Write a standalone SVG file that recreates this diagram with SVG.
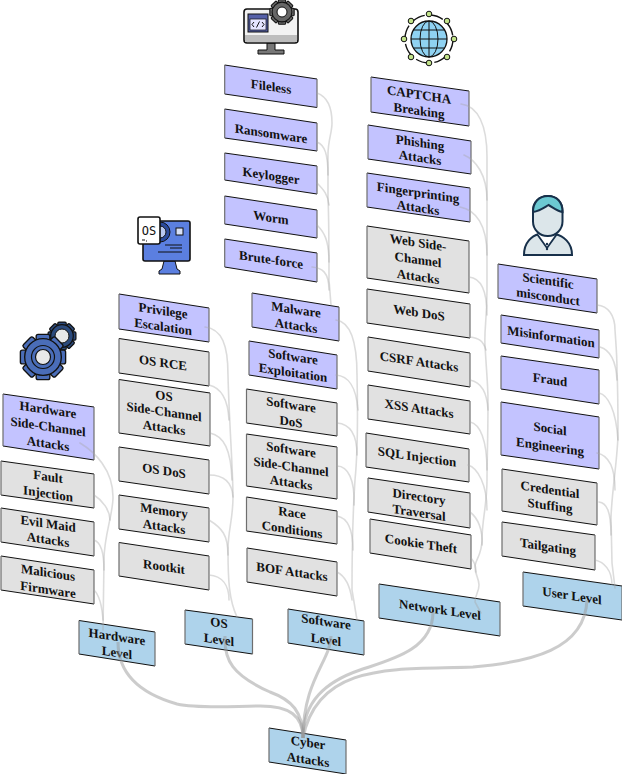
<svg xmlns="http://www.w3.org/2000/svg" width="622" height="774" viewBox="0 0 622 774">
<style>
text{font-family:"Liberation Serif","Times New Roman",serif;font-weight:700;font-size:13px;fill:#111;text-anchor:middle}
.p{fill:#c3c3ff}.g{fill:#e1e1e1}.b{fill:#aed3eb}
.h{stroke:#111;stroke-width:1;fill:none}
.v{stroke:#6e6e6e;stroke-width:1.2;fill:none}
.c{fill:none;stroke:#a8a8a8;stroke-width:1.6;opacity:.4;stroke-linecap:round}
.l{fill:none;stroke:#999;stroke-width:3;opacity:.5}
</style>
<defs>
<g id="gear">
<g id="teeth">
<rect x="-3.5" y="-11.6" width="7" height="23.2" rx="1"/>
<rect x="-3.5" y="-11.6" width="7" height="23.2" rx="1" transform="rotate(45)"/>
<rect x="-3.5" y="-11.6" width="7" height="23.2" rx="1" transform="rotate(90)"/>
<rect x="-3.5" y="-11.6" width="7" height="23.2" rx="1" transform="rotate(135)"/>
</g>
<circle r="9.4"/>
</g>
</defs>
<g id="icon-hardware">
<use href="#gear" transform="translate(62,336) scale(1.2)" fill="#2b4a7c" stroke="#111" stroke-width="1"/>
<circle cx="62" cy="336" r="7" fill="#e8e8e8" stroke="#111"/>
<use href="#gear" transform="translate(43,357) scale(1.95)" fill="#4a6db8" stroke="#111" stroke-width=".7"/>
<circle cx="43" cy="357" r="11.5" fill="#4a6db8" stroke="#111" stroke-width="1.2"/>
<circle cx="43" cy="357" r="7.5" fill="#e8e8e8" stroke="#111" stroke-width="1.2"/>
</g>
<g id="icon-os">
<path d="M164 261h11l2 8 3 2v3h-21v-3l3-2z" fill="#5b7fe0" stroke="#111"/>
<rect x="143" y="221" width="47" height="40" rx="2" fill="#5b7fe0" stroke="#111" stroke-width="1.6"/>
<circle cx="160" cy="232" r="10" fill="#2b4a9c" stroke="#111"/>
<circle cx="160" cy="232" r="6" fill="#b9c8f0" stroke="#111"/>
<rect x="176" y="228" width="7" height="7" fill="#d8e0f8" stroke="#111"/>
<path d="M165 245h17M170 248h12M158 252h24" stroke="#111" stroke-width="1.2" fill="none"/>
<rect x="138" y="217" width="22" height="27" rx="2" fill="#fff" stroke="#111" stroke-width="1.6"/>
<text x="149" y="235" style="font-family:'DejaVu Sans Mono',monospace;font-weight:400;font-size:12px">OS</text>
<path d="M142 240h3M146 241h1" stroke="#111" stroke-width="1.2"/>
</g>
<g id="icon-software">
<path d="M267 43h8v7h9v4h-26v-4h9z" fill="#777" stroke="#111"/>
<rect x="244" y="9" width="54" height="34" rx="3" fill="#f2f2f2" stroke="#111" stroke-width="1.6"/>
<path d="M245 35h52v7h-52z" fill="#bdbdbd"/>
<rect x="248" y="14" width="20" height="18" fill="#5560a8" stroke="#111"/>
<rect x="250" y="19" width="16" height="11" fill="#e4e4ff" stroke="#111" stroke-width=".7"/>
<path d="M254 22l-2 2.500 2 2.500M262 22l2 2.500-2 2.500M259.500 21.500l-3 6" stroke="#111" stroke-width="1" fill="none"/>
<use href="#gear" transform="translate(282,12) scale(1.05)" fill="#666" stroke="#111" stroke-width="1"/>
<circle cx="282" cy="12" r="5" fill="#fff" stroke="#111"/>
</g>
<g id="icon-network">
<circle cx="429" cy="39" r="24" fill="none" stroke="#111" stroke-width="1.4" stroke-dasharray="13 6"/>
<circle cx="429" cy="39" r="18" fill="#8fd2f2" stroke="#111" stroke-width="1.3"/>
<path d="M411 39h36M414 30h30M414 48h30M429 21v36" stroke="#111" stroke-width="1" fill="none"/>
<ellipse cx="429" cy="39" rx="9" ry="18" fill="none" stroke="#111"/>
<g fill="#c2e38a" stroke="#111">
<circle cx="429" cy="14" r="2.800"/><circle cx="447" cy="21" r="2.800"/><circle cx="454" cy="39" r="2.800"/><circle cx="447" cy="57" r="2.800"/>
<circle cx="429" cy="63" r="2.800"/><circle cx="411" cy="57" r="2.800"/><circle cx="404" cy="39" r="2.800"/><circle cx="411" cy="21" r="2.800"/>
</g>
</g>
<g id="icon-user">
<path d="M524 255c0-13 8-19 15-21h16c8 2 17 8 17 21z" fill="#dce6ea" stroke="#17304a" stroke-width="2"/>
<path d="M537 234l10 14 10-14" fill="#fff" stroke="#17304a" stroke-width="1.800"/>
<circle cx="547" cy="244" r="1.200" fill="#17304a"/><circle cx="547" cy="249" r="1.200" fill="#17304a"/>
<rect x="533" y="196" width="29.500" height="40" rx="14.500" fill="#dce6ea" stroke="#17304a" stroke-width="2"/>
<path d="M533 212c0-10 6-16 15-16s14.500 6 14.500 16c-6-1-10-5-14-7-5 3-9 6-15.500 7z" fill="#6cc9d2" stroke="#17304a" stroke-width="2"/>
</g>
<g id="nodes">
<g id="n-hw-sca"><polygon class="p" points="3,394 94,407 94,460 3,446"/><path class="h" d="M3 394L94 407M3 446L94 460"/><path class="v" d="M3 394V446M94 407V460"/><text transform="translate(48,427) skewY(8.500)"><tspan x="0" y="-13">Hardware</tspan><tspan x="0" y="4">Side-Channel</tspan><tspan x="0" y="21">Attacks</tspan></text></g>
<g id="n-fault"><polygon class="g" points="1,461 94,474 94,508 1,495"/><path class="h" d="M1 461L94 474M1 495L94 508"/><path class="v" d="M1 461V495M94 474V508"/><text transform="translate(48,485) skewY(8.500)"><tspan x="0" y="-4">Fault</tspan><tspan x="0" y="13">Injection</tspan></text></g>
<g id="n-evil"><polygon class="g" points="1,508 94,522 94,556 1,542"/><path class="h" d="M1 508L94 522M1 542L94 556"/><path class="v" d="M1 508V542M94 522V556"/><text transform="translate(48,532) skewY(8.500)"><tspan x="0" y="-4">Evil Maid</tspan><tspan x="0" y="12">Attacks</tspan></text></g>
<g id="n-malicious"><polygon class="g" points="1,556 94,570 94,604 1,590"/><path class="h" d="M1 556L94 570M1 590L94 604"/><path class="v" d="M1 556V590M94 570V604"/><text transform="translate(48,581) skewY(8.500)"><tspan x="0" y="-4">Malicious</tspan><tspan x="0" y="13">Firmware</tspan></text></g>
<g id="n-hw"><polygon class="b" points="79,620.500 155,632 155,666 79,654"/><path class="h" d="M79 620.500L155 632M79 654L155 666"/><path class="v" d="M79 620.500V654M155 632V666"/><text transform="translate(117,645) skewY(8.500)"><tspan x="0" y="-4">Hardware</tspan><tspan x="0" y="12">Level</tspan></text></g>
<g id="n-priv"><polygon class="p" points="119,294 209,308 209,342 119,329"/><path class="h" d="M119 294L209 308M119 329L209 342"/><path class="v" d="M119 294V329M209 308V342"/><text transform="translate(163,319) skewY(8.500)"><tspan x="0" y="-4">Privilege</tspan><tspan x="0" y="12">Escalation</tspan></text></g>
<g id="n-osrce"><polygon class="g" points="119,338.500 209,352 209,386 119,373"/><path class="h" d="M119 338.500L209 352M119 373L209 386"/><path class="v" d="M119 338.500V373M209 352V386"/><text transform="translate(163,363) skewY(8.500)" y="4">OS RCE</text></g>
<g id="n-ossca"><polygon class="g" points="119,379.500 210,393 210,446 119,433"/><path class="h" d="M119 379.500L210 393M119 433L210 446"/><path class="v" d="M119 379.500V433M210 393V446"/><text transform="translate(164,412) skewY(8.500)"><tspan x="0" y="-12">OS</tspan><tspan x="0" y="4">Side-Channel</tspan><tspan x="0" y="20">Attacks</tspan></text></g>
<g id="n-osdos"><polygon class="g" points="119,447 209,460 209,494 119,481"/><path class="h" d="M119 447L209 460M119 481L209 494"/><path class="v" d="M119 447V481M209 460V494"/><text transform="translate(164,471) skewY(8.500)" y="4">OS DoS</text></g>
<g id="n-mem"><polygon class="g" points="119,495 209,508 209,542 119,529"/><path class="h" d="M119 495L209 508M119 529L209 542"/><path class="v" d="M119 495V529M209 508V542"/><text transform="translate(164,519) skewY(8.500)"><tspan x="0" y="-4">Memory</tspan><tspan x="0" y="12">Attacks</tspan></text></g>
<g id="n-rootkit"><polygon class="g" points="119,542.500 209,556 209,590 119,576"/><path class="h" d="M119 542.500L209 556M119 576L209 590"/><path class="v" d="M119 542.500V576M209 556V590"/><text transform="translate(164,567) skewY(8.500)" y="4">Rootkit</text></g>
<g id="n-os"><polygon class="b" points="185,610 252.500,619 252.500,654 185,644"/><path class="h" d="M185 610L252.500 619M185 644L252.500 654"/><path class="v" d="M185 610V644M252.500 619V654"/><text transform="translate(219,632) skewY(8.500)"><tspan x="0" y="-5">OS</tspan><tspan x="0" y="12">Level</tspan></text></g>
<g id="n-fileless"><polygon class="p" points="224.700,65 317,79 317,107.500 224.700,94"/><path class="h" d="M224.700 65L317 79M224.700 94L317 107.500"/><path class="v" d="M224.700 65V94M317 79V107.500"/><text transform="translate(271,87) skewY(8.500)" y="4">Fileless</text></g>
<g id="n-ransom"><polygon class="p" points="224.700,109 317,123 317,151 224.700,138"/><path class="h" d="M224.700 109L317 123M224.700 138L317 151"/><path class="v" d="M224.700 109V138M317 123V151"/><text transform="translate(271,134) skewY(8.500)" y="4">Ransomware</text></g>
<g id="n-keylog"><polygon class="p" points="224.700,153 317,166 317,194 224.700,180"/><path class="h" d="M224.700 153L317 166M224.700 180L317 194"/><path class="v" d="M224.700 153V180M317 166V194"/><text transform="translate(271,176) skewY(8.500)" y="4">Keylogger</text></g>
<g id="n-worm"><polygon class="p" points="224.700,196 317,210 317,238 224.700,224"/><path class="h" d="M224.700 196L317 210M224.700 224L317 238"/><path class="v" d="M224.700 196V224M317 210V238"/><text transform="translate(271,218) skewY(8.500)" y="4">Worm</text></g>
<g id="n-brute"><polygon class="p" points="224.700,239 317,253 317,282 224.700,267"/><path class="h" d="M224.700 239L317 253M224.700 267L317 282"/><path class="v" d="M224.700 239V267M317 253V282"/><text transform="translate(271,260) skewY(8.500)" y="4">Brute-force</text></g>
<g id="n-malware"><polygon class="p" points="252,293 339,307 339,341 252,327"/><path class="h" d="M252 293L339 307M252 327L339 341"/><path class="v" d="M252 293V327M339 307V341"/><text transform="translate(296,318) skewY(8.500)"><tspan x="0" y="-4">Malware</tspan><tspan x="0" y="12">Attacks</tspan></text></g>
<g id="n-exploit"><polygon class="p" points="249,341 337,355 337,389 249,375"/><path class="h" d="M249 341L337 355M249 375L337 389"/><path class="v" d="M249 341V375M337 355V389"/><text transform="translate(293,365) skewY(8.500)"><tspan x="0" y="-4">Software</tspan><tspan x="0" y="12">Exploitation</tspan></text></g>
<g id="n-swdos"><polygon class="g" points="246.500,389 337,403 337,436 246.500,423"/><path class="h" d="M246.500 389L337 403M246.500 423L337 436"/><path class="v" d="M246.500 389V423M337 403V436"/><text transform="translate(291,413) skewY(8.500)"><tspan x="0" y="-4">Software</tspan><tspan x="0" y="13">DoS</tspan></text></g>
<g id="n-swsca"><polygon class="g" points="246.500,434 337,447 337,499 246.500,486"/><path class="h" d="M246.500 434L337 447M246.500 486L337 499"/><path class="v" d="M246.500 434V486M337 447V499"/><text transform="translate(291,467) skewY(8.500)"><tspan x="0" y="-13">Software</tspan><tspan x="0" y="4">Side-Channel</tspan><tspan x="0" y="20">Attacks</tspan></text></g>
<g id="n-race"><polygon class="g" points="246.500,497 337,511 337,544 246.500,531"/><path class="h" d="M246.500 497L337 511M246.500 531L337 544"/><path class="v" d="M246.500 497V531M337 511V544"/><text transform="translate(292,521) skewY(8.500)"><tspan x="0" y="-4">Race</tspan><tspan x="0" y="13">Conditions</tspan></text></g>
<g id="n-bof"><polygon class="g" points="247,548 337,562 337,596 247,582"/><path class="h" d="M247 548L337 562M247 582L337 596"/><path class="v" d="M247 548V582M337 562V596"/><text transform="translate(292,572) skewY(8.500)" y="4">BOF Attacks</text></g>
<g id="n-sw"><polygon class="b" points="288,609 364,621 364,655 288,643"/><path class="h" d="M288 609L364 621M288 643L364 655"/><path class="v" d="M288 609V643M364 621V655"/><text transform="translate(326,631) skewY(8.500)"><tspan x="0" y="-5">Software</tspan><tspan x="0" y="13">Level</tspan></text></g>
<g id="n-captcha"><polygon class="p" points="371,77 469,91 469,126 371,112"/><path class="h" d="M371 77L469 91M371 112L469 126"/><path class="v" d="M371 77V112M469 91V126"/><text transform="translate(419,103) skewY(8.500)"><tspan x="0" y="-4">CAPTCHA</tspan><tspan x="0" y="12">Breaking</tspan></text></g>
<g id="n-phish"><polygon class="p" points="368,125 471,141 471,174 368,159"/><path class="h" d="M368 125L471 141M368 159L471 174"/><path class="v" d="M368 125V159M471 141V174"/><text transform="translate(420,150) skewY(8.500)"><tspan x="0" y="-3">Phishing</tspan><tspan x="0" y="12">Attacks</tspan></text></g>
<g id="n-finger"><polygon class="p" points="367,173 470,188 470,222 367,207"/><path class="h" d="M367 173L470 188M367 207L470 222"/><path class="v" d="M367 173V207M470 188V222"/><text transform="translate(418,200) skewY(8.500)"><tspan x="0" y="-3">Fingerprinting</tspan><tspan x="0" y="12">Attacks</tspan></text></g>
<g id="n-websca"><polygon class="g" points="367,226 469,241 469,293 367,278"/><path class="h" d="M367 226L469 241M367 278L469 293"/><path class="v" d="M367 226V278M469 241V293"/><text transform="translate(418,260) skewY(8.500)"><tspan x="0" y="-13">Web Side-</tspan><tspan x="0" y="4">Channel</tspan><tspan x="0" y="21">Attacks</tspan></text></g>
<g id="n-webdos"><polygon class="g" points="367,289 470,304 470,338 367,323"/><path class="h" d="M367 289L470 304M367 323L470 338"/><path class="v" d="M367 289V323M470 304V338"/><text transform="translate(419,313) skewY(8.500)" y="4">Web DoS</text></g>
<g id="n-csrf"><polygon class="g" points="368,337 470,353 470,387 368,371"/><path class="h" d="M368 337L470 353M368 371L470 387"/><path class="v" d="M368 337V371M470 353V387"/><text transform="translate(419,362) skewY(8.500)" y="4">CSRF Attacks</text></g>
<g id="n-xss"><polygon class="g" points="368,385 470,401 470,434 368,419"/><path class="h" d="M368 385L470 401M368 419L470 434"/><path class="v" d="M368 385V419M470 401V434"/><text transform="translate(419,409) skewY(8.500)" y="4">XSS Attacks</text></g>
<g id="n-sql"><polygon class="g" points="366,433 469,449 469,482 366,467"/><path class="h" d="M366 433L469 449M366 467L469 482"/><path class="v" d="M366 433V467M469 449V482"/><text transform="translate(417,457) skewY(8.500)" y="4">SQL Injection</text></g>
<g id="n-dir"><polygon class="g" points="368,478 470,493 470,528 368,512"/><path class="h" d="M368 478L470 493M368 512L470 528"/><path class="v" d="M368 478V512M470 493V528"/><text transform="translate(419,505) skewY(8.500)"><tspan x="0" y="-4">Directory</tspan><tspan x="0" y="12">Traversal</tspan></text></g>
<g id="n-cookie"><polygon class="g" points="370,519 471,535 471,569 370,553"/><path class="h" d="M370 519L471 535M370 553L471 569"/><path class="v" d="M370 519V553M471 535V569"/><text transform="translate(421,544) skewY(8.500)" y="4">Cookie Theft</text></g>
<g id="n-net"><polygon class="b" points="379,584 500,602 500,636 379,618"/><path class="h" d="M379 584L500 602M379 618L500 636"/><path class="v" d="M379 584V618M500 602V636"/><text transform="translate(440,610) skewY(8.500)" y="4">Network Level</text></g>
<g id="n-sci"><polygon class="p" points="498,264 597,279 597,313 498,298"/><path class="h" d="M498 264L597 279M498 298L597 313"/><path class="v" d="M498 264V298M597 279V313"/><text transform="translate(548,289) skewY(8.500)"><tspan x="0" y="-4">Scientific</tspan><tspan x="0" y="12">misconduct</tspan></text></g>
<g id="n-misinfo"><polygon class="p" points="501,315 599,330 599,358 501,343"/><path class="h" d="M501 315L599 330M501 343L599 358"/><path class="v" d="M501 315V343M599 330V358"/><text transform="translate(551,337) skewY(8.500)" y="4">Misinformation</text></g>
<g id="n-fraud"><polygon class="p" points="501,356 599,370 599,404 501,389"/><path class="h" d="M501 356L599 370M501 389L599 404"/><path class="v" d="M501 356V389M599 370V404"/><text transform="translate(550,380) skewY(8.500)" y="4">Fraud</text></g>
<g id="n-social"><polygon class="p" points="501,402 599,417 599,469 501,455"/><path class="h" d="M501 402L599 417M501 455L599 469"/><path class="v" d="M501 402V455M599 417V469"/><text transform="translate(550,438) skewY(8.500)"><tspan x="0" y="-5">Social</tspan><tspan x="0" y="13">Engineering</tspan></text></g>
<g id="n-cred"><polygon class="g" points="502,469 597,483 597,525 502,511"/><path class="h" d="M502 469L597 483M502 511L597 525"/><path class="v" d="M502 469V511M597 483V525"/><text transform="translate(550,498) skewY(8.500)"><tspan x="0" y="-4">Credential</tspan><tspan x="0" y="12">Stuffing</tspan></text></g>
<g id="n-tail"><polygon class="g" points="502,522 595,535 595,570 502,556"/><path class="h" d="M502 522L595 535M502 556L595 570"/><path class="v" d="M502 522V556M595 535V570"/><text transform="translate(548,547) skewY(8.500)" y="4">Tailgating</text></g>
<g id="n-user"><polygon class="b" points="523,572 622,586 622,620 523,606"/><path class="h" d="M523 572L622 586M523 606L622 620"/><path class="v" d="M523 572V606M622 586V620"/><text transform="translate(572,596) skewY(8.500)" y="4">User Level</text></g>
<g id="n-cyber"><polygon class="b" points="269,728 346,740 346,774 269,762"/><path class="h" d="M269 728L346 740M269 762L346 774"/><path class="v" d="M269 728V762M346 740V774"/><text transform="translate(308,751) skewY(8.500)"><tspan x="0" y="-4">Cyber</tspan><tspan x="0" y="13">Attacks</tspan></text></g>
</g>
<g id="connectors">
<path class="c" d="M80 443C95 452 113 470 113 497C113 515 104 535 104 560L103 630"/>
<path class="c" d="M94 495C102 500 110 510 110 520"/>
<path class="c" d="M94 540C100 542 104 550 104 570"/>
<path class="c" d="M94 590C99 595 102 605 103 620"/>
<path class="c" d="M205 327C222 329 228 345 228 375C229 420 233 470 233 497C233 520 228 530 228 550C228 580 229 600 237 617"/>
<path class="c" d="M209 385C222 388 228 400 229 420"/>
<path class="c" d="M210 433C224 436 231 450 232 480"/>
<path class="c" d="M209 475C222 475 232 480 233 497"/>
<path class="c" d="M209 520C222 528 228 535 228 555"/>
<path class="c" d="M209 575C222 576 229 585 229 600"/>
<path class="c" d="M317 93C328 97 332 108 332 123C332 133 328 140 328 155L328 197C329 220 329 260 329 280L331 305"/>
<path class="c" d="M317 142C325 145 328 155 328 175"/>
<path class="c" d="M317 183C324 190 328 195 329 205"/>
<path class="c" d="M317 225C324 232 329 240 329 262"/>
<path class="c" d="M312 267C322 268 329 272 329 290"/>
<path class="c" d="M336 320C350 322 357 340 357 375C358 420 358 450 355 480C353 510 352 560 352 590L357 620"/>
<path class="c" d="M336 375C348 376 356 385 358 410"/>
<path class="c" d="M337 423C350 424 357 435 357 455"/>
<path class="c" d="M337 466C348 466 355 480 354 505"/>
<path class="c" d="M337 516C348 518 353 530 353 550"/>
<path class="c" d="M337 572C345 576 350 585 352 600"/>
<path class="c" d="M461 104C478 106 487 125 487 157L487 290C487 320 484 330 485 345C486 365 488 385 488 400C488 440 487 460 487 480C487 505 482 520 482 540C482 555 475 560 475 567C475 575 479 578 479 585C479 592 475 595 475 602L481 613"/>
<path class="c" d="M464 155C476 160 487 175 487 200"/>
<path class="c" d="M460 207C476 210 487 225 487 255"/>
<path class="c" d="M469 277C480 278 487 290 487 315"/>
<path class="c" d="M470 337C478 338 483 340 486 350"/>
<path class="c" d="M470 380C480 382 487 390 488 410"/>
<path class="c" d="M470 422C480 424 487 440 487 470"/>
<path class="c" d="M468 465C478 468 487 485 487 510"/>
<path class="c" d="M470 512C478 518 483 530 482 545"/>
<path class="c" d="M471 558C474 562 476 565 476 572"/>
<path class="c" d="M597 305C608 306 615 315 615 330C616 345 617 355 617 370C618 395 618 415 618 433C618 455 612 490 611 517L612 563L615 588"/>
<path class="c" d="M600 347C610 350 616 360 617 380"/>
<path class="c" d="M599 393C608 395 616 410 618 440"/>
<path class="c" d="M597 453C607 455 615 465 615 490"/>
<path class="c" d="M599 502C607 503 611 512 611 535"/>
<path class="c" d="M595 560C604 562 612 570 612 585"/>
<path class="l" d="M118 642C118 670 135 692 177 704C200 709 235 706 260 706C290 706 303 716 303 738"/>
<path class="l" d="M225 636C224 660 232 675 270 692C292 700 303 712 303 738"/>
<path class="l" d="M331 636C331 660 303 680 303 738"/>
<path class="l" d="M433 612C433 650 390 660 360 670C325 682 303 702 303 738"/>
<path class="l" d="M587 600C585 650 530 662 473 667C400 670 318 660 303 738"/>
</g>
</svg>
